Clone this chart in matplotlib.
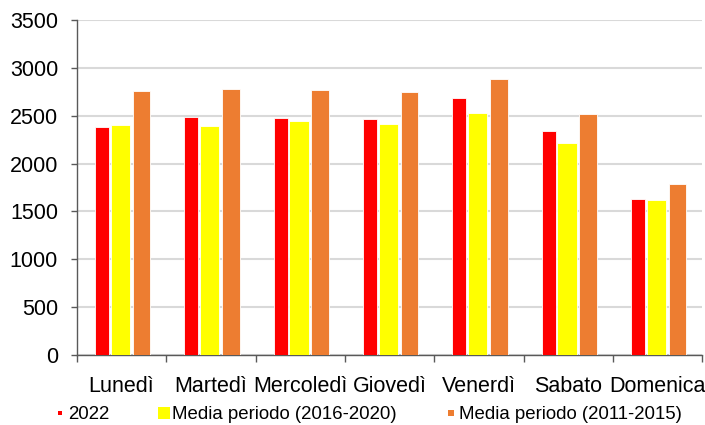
import numpy as np
import matplotlib.pyplot as plt
from matplotlib.lines import Line2D

plt.rcParams["font.family"] = ["Liberation Sans", "DejaVu Sans"]

days = ["Lunedì", "Martedì", "Mercoledì", "Giovedì", "Venerdì", "Sabato", "Domenica"]
y2022 = [2379, 2483, 2476, 2463, 2682, 2344, 1633]
media_2016_2020 = [2403, 2393, 2445, 2414, 2529, 2215, 1616]
media_2011_2015 = [2759, 2776, 2769, 2748, 2884, 2518, 1783]

red = "#FF0000"
yellow = "#FFFF00"
orange = "#ED7D31"

fig = plt.figure(figsize=(7.05, 4.25), dpi=100)
ax = fig.add_axes([0.109, 0.165, 0.887, 0.788])

x = np.arange(len(days))
ax.bar(x - 0.219, y2022, width=0.157, color=red, edgecolor="white", linewidth=0.6, zorder=3)
ax.bar(x - 0.013, media_2016_2020, width=0.217, color=yellow, edgecolor="white", linewidth=0.6, zorder=3)
ax.bar(x + 0.225, media_2011_2015, width=0.198, color=orange, edgecolor="white", linewidth=0.6, zorder=3)

ax.set_xlim(-0.5, len(days) - 0.5)
ax.set_ylim(0, 3500)
ax.set_yticks(np.arange(0, 3501, 500))
ax.yaxis.grid(True, color="#d9d9d9", linewidth=1.5, zorder=0)
ax.set_axisbelow(True)

ax.set_xticks(x)
ax.set_xticklabels(days)
ax.set_xticks(np.arange(-0.5, len(days)), minor=True)
ax.tick_params(axis="x", which="major", length=0, pad=15, labelsize=15.5)
ax.tick_params(axis="x", which="minor", length=5, width=1, color="#595959", direction="out")
ax.tick_params(axis="y", length=4.5, width=1, color="#595959", pad=9, labelsize=15.5)

for side in ["top", "right"]:
    ax.spines[side].set_visible(False)
for side in ["left", "bottom"]:
    ax.spines[side].set_color("#595959")
    ax.spines[side].set_linewidth(1)

# legend keys of different sizes, like the source spreadsheet
handles = [
    Line2D([], [], marker="s", linestyle="none", markersize=2.9, markeredgewidth=0, color=red),
    Line2D([], [], marker="s", linestyle="none", markersize=8.6, markeredgewidth=0, color=yellow),
    Line2D([], [], marker="s", linestyle="none", markersize=4.3, markeredgewidth=0, color=orange),
]
labels = ["2022", "Media periodo (2016-2020)", "Media periodo (2011-2015)"]
fig.legend(handles, labels, loc="center", bbox_to_anchor=(0.522, 0.024), ncol=3,
           frameon=False, fontsize=13.4, handlelength=0.65, handletextpad=0.1,
           columnspacing=2.6, borderpad=0)

fig.savefig("out.png", dpi=100)
